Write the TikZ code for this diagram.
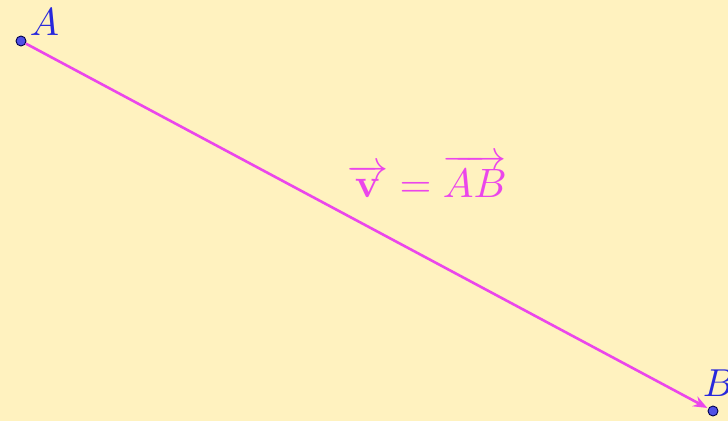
\documentclass[tikz,border=0pt]{standalone}
\usepackage{amsmath}
\usetikzlibrary{arrows.meta}
\definecolor{bg}{RGB}{255,242,191}
\definecolor{mag}{RGB}{235,70,235}
\definecolor{ptblue}{RGB}{80,80,230}
\definecolor{lblblue}{RGB}{40,40,220}
\tikzset{
  pt/.style={circle,fill=ptblue,draw=black!70!blue,line width=0.9pt,inner sep=0pt,minimum size=10pt},
  vec/.style={draw=mag,line width=2.6pt,-{Stealth[length=14pt,width=11pt]}},
  lbl/.style={text=lblblue,scale=3.9,inner sep=0pt}
}
\begin{document}
\begin{tikzpicture}[x=1pt,y=-1pt]
\fill[bg] (0,0) rectangle (728,421);
\useasboundingbox (0,0) rectangle (728,421);
\node[pt] (A) at (21,41) {};
\node[pt] (B) at (713,411) {};
\draw[vec,shorten >=1pt] (A) -- (B);
\node[lbl,anchor=base west] (la) at (29,35) {$A$};
\node[lbl,anchor=base west] (lb) at (702,396) {$B$};
\node[text=mag,scale=4.1,inner sep=0pt] (v) at (427,176) {$\overrightarrow{\mathbf{v}}=\overrightarrow{AB}$};
\end{tikzpicture}
\end{document}
